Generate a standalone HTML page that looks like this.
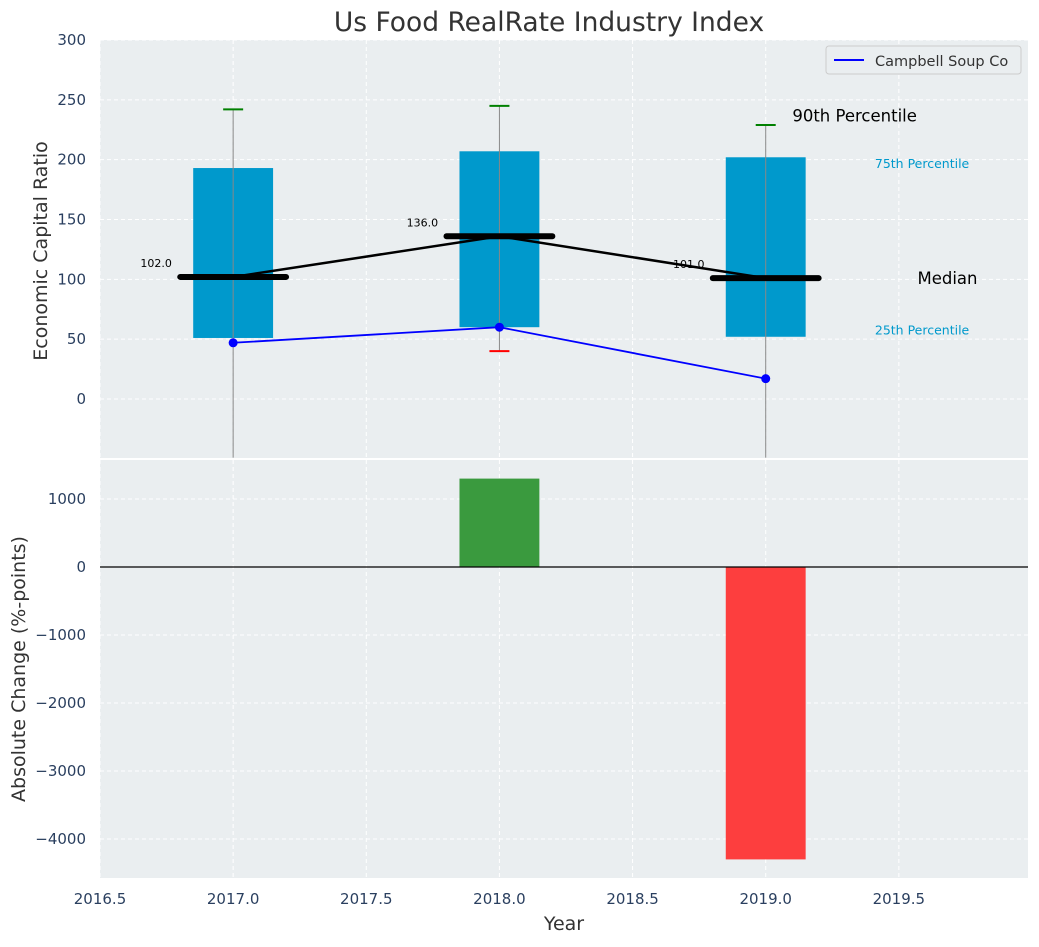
<!DOCTYPE html>
<html><head><meta charset="utf-8"><style>
body{margin:0;background:#fff;font-family:"Liberation Sans","DejaVu Sans",sans-serif}
svg text{font-family:"DejaVu Sans","Liberation Sans",sans-serif}
</style></head><body>
<svg id="chart" width="1039" height="942" xmlns="http://www.w3.org/2000/svg"></svg>
<script>
const years=[2017,2018,2019];
const p25=[51,60,52];
const p75=[193,207,202];
const p90=[242,245,229];
const p10=[-60,40,-60];
const medians=[102,136,101];
const company=[47,60,17];
const changes=[0,1300,-4300];
const xTicks=[2016.5,2017.0,2017.5,2018.0,2018.5,2019.0,2019.5];
const yTopTicks=[0,50,100,150,200,250,300];
const yBotTicks=[-4000,-3000,-2000,-1000,0,1000];

const svg=document.getElementById('chart');
const NS='http://www.w3.org/2000/svg';
function mk(t,a,txt){const e=document.createElementNS(NS,t);for(const k in a)e.setAttribute(k,a[k]);if(txt!==undefined)e.textContent=txt;svg.appendChild(e);return e;}
const L=100,R=1028,T1=40,B1=458,T2=460,B2=878;
const x=v=>L+(v-2016.5)*(R-L)/(2019.985-2016.5);
const yT=v=>399-v*(359/300);
const yB=v=>567-v*0.068;
const tc='#2a3f5f';
let e;
e=mk('rect',{x:L,y:T1,width:R-L,height:B1-T1,fill:'#eaeef0'});

e=mk('rect',{x:L,y:T2,width:R-L,height:B2-T2,fill:'#eaeef0'});

xTicks.forEach(v=>{
 e=mk('line',{x1:x(v),x2:x(v),y1:T1,y2:B1,stroke:'#fff','stroke-dasharray':'4,3'});
 
 e=mk('line',{x1:x(v),x2:x(v),y1:T2,y2:B2,stroke:'#fff','stroke-dasharray':'4,3'});
 
 e=mk('text',{x:x(v),y:904,'text-anchor':'middle','font-size':15,fill:tc},v.toFixed(1));
 
});
yTopTicks.forEach(v=>{
 e=mk('line',{x1:L,x2:R,y1:yT(v),y2:yT(v),stroke:'#fff','stroke-dasharray':'4,3'});
 
 e=mk('text',{x:86,y:yT(v)+5,'text-anchor':'end','font-size':15,fill:tc},String(v));
 
});
yBotTicks.forEach(v=>{
 e=mk('line',{x1:L,x2:R,y1:yB(v),y2:yB(v),stroke:'#fff','stroke-dasharray':'4,3'});
 
 e=mk('text',{x:86,y:yB(v)+5,'text-anchor':'end','font-size':15,fill:tc},String(v).replace('-','\u2212'));
 
});
e=mk('line',{x1:L,x2:R,y1:459,y2:459,stroke:'#fff','stroke-width':2});
const bw=0.3,mw=0.42;
years.forEach((yr,i)=>{
 e=mk('rect',{x:x(yr-bw/2),y:yT(p75[i]),width:x(yr+bw/2)-x(yr-bw/2),height:yT(p25[i])-yT(p75[i]),fill:'#0099cc'});
 
 const lo=Math.max(p10[i],-49);
 e=mk('line',{x1:x(yr),x2:x(yr),y1:yT(p90[i]),y2:yT(lo),stroke:'#888','stroke-width':1});
 
 e=mk('line',{x1:x(yr)-10,x2:x(yr)+10,y1:yT(p90[i]),y2:yT(p90[i]),stroke:'green','stroke-width':2});
 
 if(p10[i]>-49){
  e=mk('line',{x1:x(yr)-10,x2:x(yr)+10,y1:yT(p10[i]),y2:yT(p10[i]),stroke:'red','stroke-width':2});
  
 }
});
e=mk('polyline',{points:years.map((yr,i)=>x(yr)+','+yT(medians[i])).join(' '),fill:'none',stroke:'#000','stroke-width':2.5});

years.forEach((yr,i)=>{
 e=mk('line',{x1:x(yr-mw/2)+3,x2:x(yr+mw/2)-3,y1:yT(medians[i]),y2:yT(medians[i]),stroke:'#000','stroke-width':6,'stroke-linecap':'round'});
 
 e=mk('text',{x:x(yr-0.23),y:yT(medians[i])-10,'text-anchor':'end','font-size':11,fill:'#000'},medians[i].toFixed(1));
 
});
e=mk('polyline',{points:years.map((yr,i)=>x(yr)+','+yT(company[i])).join(' '),fill:'none',stroke:'blue','stroke-width':1.8});

years.forEach((yr,i)=>{
 e=mk('circle',{cx:x(yr),cy:yT(company[i]),r:4.5,fill:'blue'});
 
});
e=mk('text',{x:x(2019.1),y:yT(232),'font-size':16.5,fill:'#000'},'90th Percentile');

e=mk('text',{x:x(2019.41),y:yT(193),'font-size':12.5,fill:'#0099cc'},'75th Percentile');

e=mk('text',{x:x(2019.57),y:yT(96),'font-size':16.5,fill:'#000'},'Median');

e=mk('text',{x:x(2019.41),y:yT(54),'font-size':12.5,fill:'#0099cc'},'25th Percentile');

years.forEach((yr,i)=>{
 if(!changes[i])return;
 const y0=yB(0),y1=yB(changes[i]);
 e=mk('rect',{x:x(yr-bw/2),y:Math.min(y0,y1),width:x(yr+bw/2)-x(yr-bw/2),height:Math.abs(y1-y0),fill:changes[i]>0?'#3a9a3e':'#fd3e3e'});
 
});
e=mk('line',{x1:L,x2:R,y1:yB(0),y2:yB(0),stroke:'#000','stroke-width':1.2});

e=mk('rect',{x:826,y:46,width:195,height:28,rx:3,fill:'#eaeef0',stroke:'#ccc'});

e=mk('line',{x1:834,x2:864,y1:60,y2:60,stroke:'blue','stroke-width':2});

e=mk('text',{x:875,y:66,'font-size':14.5,fill:'#333'},'Campbell Soup Co');

e=mk('text',{x:549,y:31,'text-anchor':'middle','font-size':26.5,fill:'#333'},'Us Food RealRate Industry Index');

e=mk('text',{x:564,y:930,'text-anchor':'middle','font-size':19,fill:'#333'},'Year');

e=mk('text',{x:47,y:251,'text-anchor':'middle','font-size':19,fill:'#333',transform:'rotate(-90 47 251)'},'Economic Capital Ratio');

e=mk('text',{x:25,y:669,'text-anchor':'middle','font-size':19,fill:'#333',transform:'rotate(-90 25 669)'},'Absolute Change (%-points)');

</script>
</body></html>
